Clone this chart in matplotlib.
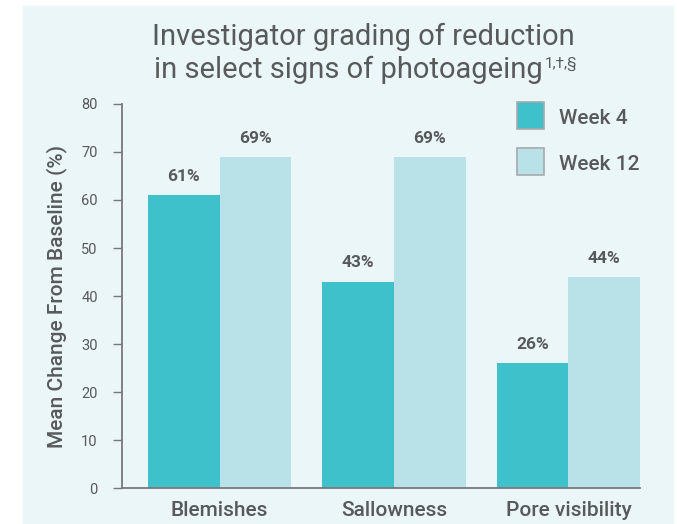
import matplotlib
matplotlib.use("Agg")
import matplotlib.pyplot as plt
import numpy as np
from matplotlib.patches import Rectangle

categories = ["Blemishes", "Sallowness", "Pore visibility"]
week4 = [61, 43, 26]
week12 = [69, 69, 44]
series_names = ["Week 4", "Week 12"]
yticks = [0, 10, 20, 30, 40, 50, 60, 70, 80]

c_w4 = "#3ec1ca"
c_w12 = "#b9e2e8"
c_bg = "#eaf6f7"
c_text = "#58595b"
c_axis = "#77787b"

plt.rcParams["font.family"] = ["Roboto", "DejaVu Sans"]

fig = plt.figure(figsize=(6.77, 5.24), dpi=100)
fig.patches.append(Rectangle((23 / 677, 0), 650 / 677, 518 / 524,
                             transform=fig.transFigure, color=c_bg, zorder=-5))

ax = fig.add_axes([122 / 677, 36 / 524, 518 / 677, 384 / 524])
ax.set_facecolor("none")

x = np.arange(len(categories))
w = 0.41
b1 = ax.bar(x - w / 2, week4, w, color=c_w4, label=series_names[0], zorder=2)
b2 = ax.bar(x + w / 2, week12, w, color=c_w12, label=series_names[1], zorder=2)

for bars, vals in ((b1, week4), (b2, week12)):
    for r, v in zip(bars, vals):
        ax.annotate(f"{v}%", (r.get_x() + r.get_width() / 2, v),
                    xytext=(0, 8), textcoords="offset points",
                    ha="center", va="bottom", fontsize=12.5,
                    fontweight="bold", color=c_text)

ax.set_xlim(-0.559, 2.41)
ax.set_ylim(0, 80)
ax.set_yticks(yticks)
ax.set_xticks(x)
ax.set_xticklabels(categories, fontsize=15, color=c_text, fontweight="medium")
ax.tick_params(axis="x", length=0, pad=9)
ax.tick_params(axis="y", length=6.5, width=1, color=c_axis,
               labelcolor=c_text, labelsize=10.5, pad=11)
for s in ("top", "right"):
    ax.spines[s].set_visible(False)
for s in ("left", "bottom"):
    ax.spines[s].set_color(c_axis)
    ax.spines[s].set_linewidth(1.3)

ax.set_ylabel("Mean Change From Baseline (%)", fontsize=15, color=c_text,
              fontweight="medium")
ax.yaxis.set_label_coords(-(122 - 67) / 518, 0.5)

# legend drawn by hand to match the square swatches
for i, (name, col) in enumerate(zip(series_names, [c_w4, c_w12])):
    top = 102 + i * 46
    fig.patches.append(Rectangle((517 / 677, 1 - (top + 27) / 524), 27 / 677,
                                 27 / 524, transform=fig.transFigure,
                                 facecolor=col, edgecolor="#a7a9ac", lw=1.2,
                                 zorder=3))
    fig.text(559 / 677, 1 - (top + 16) / 524, name, fontsize=15,
             color=c_text, va="center", ha="left", fontweight="medium")

fig.text(363 / 677, 1 - 37 / 524, "Investigator grading of reduction",
         fontsize=21, color=c_text, ha="center", va="center")
t2 = fig.text(348 / 677, 1 - 70 / 524, "in select signs of photoageing",
              fontsize=21, color=c_text, ha="center", va="center")
fig.canvas.draw()
bb = t2.get_window_extent()
fig.text((bb.x1 + 2) / 677, 1 - 57 / 524, "1,\u2020,\u00a7", fontsize=11,
         color=c_text, ha="left", va="top")

fig.savefig("out.png", dpi=100)
